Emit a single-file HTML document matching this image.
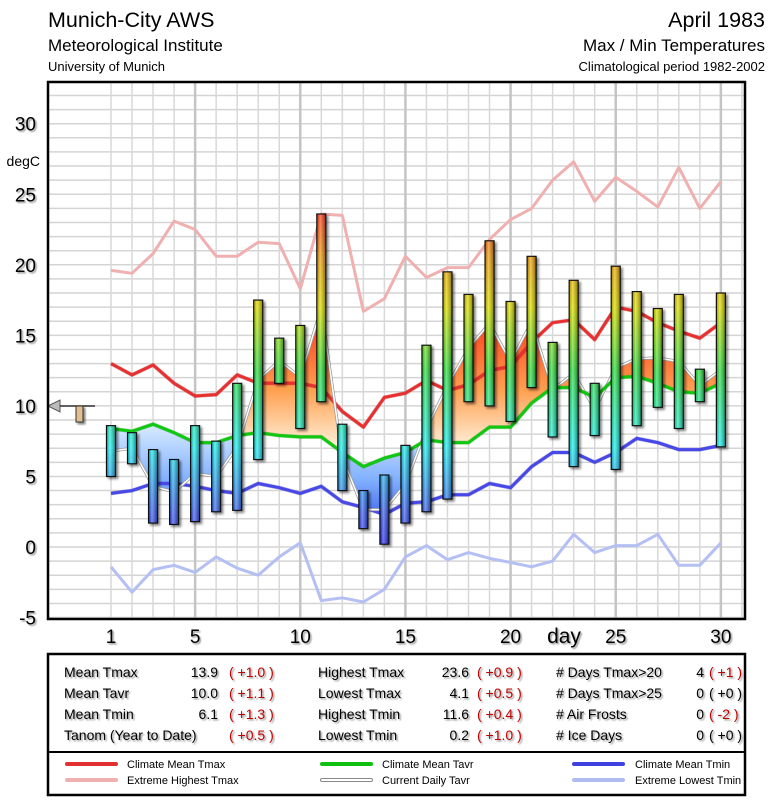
<!DOCTYPE html>
<html><head><meta charset="utf-8">
<style>
body{margin:0;background:#fff;font-family:"Liberation Sans",sans-serif;}
svg text{font-family:"Liberation Sans",sans-serif;}
</style></head>
<body>
<svg id="c" width="775" height="800" xmlns="http://www.w3.org/2000/svg">
<defs>
<linearGradient id="barGrad" gradientUnits="userSpaceOnUse" x1="0" y1="547" x2="0" y2="214">
<stop offset="0" stop-color="#3030f0"/>
<stop offset="0.1" stop-color="#4060f0"/>
<stop offset="0.3" stop-color="#20f0f0"/>
<stop offset="0.53" stop-color="#30e040"/>
<stop offset="0.72" stop-color="#e0e000"/>
<stop offset="0.87" stop-color="#f0a010"/>
<stop offset="1" stop-color="#ff4020"/>
</linearGradient>
<linearGradient id="barShade" x1="0" y1="0" x2="1" y2="0">
<stop offset="0" stop-color="#000" stop-opacity="0.2"/>
<stop offset="0.35" stop-color="#fff" stop-opacity="0.3"/>
<stop offset="1" stop-color="#000" stop-opacity="0.35"/>
</linearGradient>
<linearGradient id="warmGrad" gradientUnits="userSpaceOnUse" x1="0" y1="450" x2="0" y2="300">
<stop offset="0" stop-color="#fff4e0"/>
<stop offset="0.4" stop-color="#ffa050"/>
<stop offset="1" stop-color="#ff2010"/>
</linearGradient>
<linearGradient id="coldGrad" gradientUnits="userSpaceOnUse" x1="0" y1="420" x2="0" y2="540">
<stop offset="0" stop-color="#e0f0ff"/>
<stop offset="0.5" stop-color="#80b0ff"/>
<stop offset="1" stop-color="#2040e0"/>
</linearGradient>
<filter id="sh" x="-50%" y="-10%" width="200%" height="130%"><feDropShadow dx="2" dy="2" stdDeviation="1.2" flood-opacity="0.5"/></filter>
<filter id="tsh"><feDropShadow dx="1.5" dy="1.5" stdDeviation="0.8" flood-opacity="0.4"/></filter>
<clipPath id="aboveClip"><path id="aboveP"/></clipPath>
<clipPath id="belowClip"><path id="belowP"/></clipPath>
</defs>

<g>
<text x="48" y="27" font-size="21.5">Munich-City AWS</text>
<text x="48" y="51" font-size="17">Meteorological Institute</text>
<text x="48" y="71" font-size="13">University of Munich</text>
<text x="765" y="27" font-size="21.5" text-anchor="end">April 1983</text>
<text x="765" y="51" font-size="17" text-anchor="end">Max / Min Temperatures</text>
<text x="765" y="71" font-size="13" text-anchor="end">Climatological period 1982-2002</text>
</g>

<g id="grid"></g>
<g id="fills"></g>
<g id="lines"></g>
<g id="bars"></g>
<g id="axes"></g>

<g>
<polygon points="48,406 60,400 60,412" fill="#bbb" stroke="#555" stroke-width="1"/>
<line x1="60" y1="406" x2="95" y2="406" stroke="#333" stroke-width="1.5"/>
<rect x="76" y="406" width="7" height="16" fill="#e0c090" stroke="#333" stroke-width="1" filter="url(#sh)"/>
</g>

<rect x="48" y="82" width="697" height="537" fill="none" stroke="#000" stroke-width="2.5"/>

<g font-size="14">
<rect x="48" y="654" width="697" height="141" fill="#fff" stroke="#000" stroke-width="2.5"/>
<line x1="48" y1="752" x2="745" y2="752" stroke="#000" stroke-width="2"/>
<g filter="url(#tsh)">
<text x="64" y="677">Mean Tmax</text><text x="218" y="677" text-anchor="end">13.9</text><text x="229" y="677" fill="#c00000">( +1.0 )</text>
<text x="64" y="698">Mean Tavr</text><text x="218" y="698" text-anchor="end">10.0</text><text x="229" y="698" fill="#c00000">( +1.1 )</text>
<text x="64" y="719">Mean Tmin</text><text x="218" y="719" text-anchor="end">6.1</text><text x="229" y="719" fill="#c00000">( +1.3 )</text>
<text x="64" y="740">Tanom (Year to Date)</text><text x="229" y="740" fill="#c00000">( +0.5 )</text>
<text x="318" y="677">Highest Tmax</text><text x="469" y="677" text-anchor="end">23.6</text><text x="477" y="677" fill="#c00000">( +0.9 )</text>
<text x="318" y="698">Lowest Tmax</text><text x="469" y="698" text-anchor="end">4.1</text><text x="477" y="698" fill="#c00000">( +0.5 )</text>
<text x="318" y="719">Highest Tmin</text><text x="469" y="719" text-anchor="end">11.6</text><text x="477" y="719" fill="#c00000">( +0.4 )</text>
<text x="318" y="740">Lowest Tmin</text><text x="469" y="740" text-anchor="end">0.2</text><text x="477" y="740" fill="#c00000">( +1.0 )</text>
<text x="556" y="677"># Days Tmax&gt;20</text><text x="704" y="677" text-anchor="end">4</text><text x="709" y="677" fill="#c00000">( +1 )</text>
<text x="556" y="698"># Days Tmax&gt;25</text><text x="704" y="698" text-anchor="end">0</text><text x="709" y="698">( +0 )</text>
<text x="556" y="719"># Air Frosts</text><text x="704" y="719" text-anchor="end">0</text><text x="709" y="719" fill="#c00000">( -2 )</text>
<text x="556" y="740"># Ice Days</text><text x="704" y="740" text-anchor="end">0</text><text x="709" y="740">( +0 )</text>
</g>
</g>

<g font-size="11">
<g><line x1="67" y1="764" x2="116" y2="764" stroke="#e03030" stroke-width="4" stroke-linecap="round"/><text x="127" y="768">Climate Mean Tmax</text></g>
<g><line x1="67" y1="780" x2="116" y2="780" stroke="#f0b0b0" stroke-width="4" stroke-linecap="round"/><text x="127" y="784">Extreme Highest Tmax</text></g>
<g><line x1="322" y1="764" x2="371" y2="764" stroke="#10c010" stroke-width="4" stroke-linecap="round"/><text x="382" y="768">Climate Mean Tavr</text></g>
<g><line x1="322" y1="780" x2="371" y2="780" stroke="#888" stroke-width="4" stroke-linecap="round"/><line x1="322" y1="780" x2="371" y2="780" stroke="#fff" stroke-width="2" stroke-linecap="round"/><text x="382" y="784">Current Daily Tavr</text></g>
<g><line x1="574" y1="764" x2="623" y2="764" stroke="#4040e0" stroke-width="4" stroke-linecap="round"/><text x="635" y="768">Climate Mean Tmin</text></g>
<g><line x1="574" y1="780" x2="623" y2="780" stroke="#b0bcf0" stroke-width="4" stroke-linecap="round"/><text x="635" y="784">Extreme Lowest Tmin</text></g>
</g>
</svg>

<script>
const days = Array.from({length:30},(_,i)=>i+1);
const tmax = [8.6,8.1,6.9,6.2,8.6,7.5,11.6,17.5,14.8,15.7,23.6,8.7,4.0,5.1,7.2,14.3,19.5,17.9,21.7,17.4,20.6,14.5,18.9,11.6,19.9,18.1,16.9,17.9,12.6,18.0];
const tmin = [5.0,5.9,1.7,1.6,1.8,2.5,2.6,6.2,11.6,8.4,10.3,4.0,1.3,0.2,1.7,2.5,3.4,10.3,10.0,8.9,11.3,7.8,5.7,7.9,5.5,8.6,9.9,8.4,10.3,7.1];
const climTmax = [13.0,12.2,12.9,11.6,10.7,10.8,12.2,11.6,11.6,11.6,11.3,9.6,8.5,10.6,10.9,11.8,11.1,11.5,12.5,12.8,14.5,15.9,16.1,14.7,17.0,16.7,15.9,15.3,14.8,15.9];
const climTavr = [8.4,8.2,8.7,8.1,7.4,7.4,7.9,8.1,7.9,7.8,7.8,6.7,5.7,6.3,6.7,7.6,7.4,7.4,8.5,8.5,10.2,11.3,11.3,10.6,12.0,12.1,11.6,11.0,10.9,11.6];
const climTmin = [3.8,4.0,4.5,4.5,4.3,4.0,3.8,4.5,4.2,3.8,4.3,3.2,2.8,2.3,3.1,3.2,3.7,3.7,4.5,4.2,5.7,6.7,6.7,6.0,6.7,7.7,7.4,6.9,6.9,7.2];
const extHigh = [19.6,19.4,20.8,23.1,22.5,20.6,20.6,21.6,21.5,18.3,23.6,23.5,16.7,17.6,20.6,19.1,19.8,19.8,21.8,23.2,24.0,26.0,27.3,24.5,26.2,25.2,24.1,26.9,24.0,25.9];
const extLow = [-1.4,-3.2,-1.6,-1.3,-1.8,-0.7,-1.5,-2.0,-0.7,0.3,-3.8,-3.6,-3.9,-3.0,-0.7,0.1,-0.9,-0.4,-0.8,-1.1,-1.4,-1.0,0.9,-0.4,0.1,0.1,0.9,-1.3,-1.3,0.3];
const yTicks = [-5,0,5,10,15,20,25,30];
const xTicks = [1,5,10,15,20,25,30];

const NS="http://www.w3.org/2000/svg";
const X = d => 111 + (d-1)*21.03;
const Y = v => 547 - v*14.11;
function mk(tag, attrs, parent){const e=document.createElementNS(NS,tag);for(const k in attrs)e.setAttribute(k,attrs[k]);parent.appendChild(e);return e;}

const grid=document.getElementById('grid');
for(let v=-5; v<=32; v++){
  const l=mk('line',{x1:48,x2:745,y1:Y(v),y2:Y(v),stroke:'#d4d4d4','stroke-width':1.5},grid);
  
  
}
for(let d=1; d<=31; d++){
  const l=mk('line',{x1:X(d),x2:X(d),y1:82,y2:619,stroke:d%5===0?'#c4c4c4':'#d8d8d8','stroke-width':d%5===0?2.5:1.5},grid);
  
  
}

const tavr = tmax.map((v,i)=>(v+tmin[i])/2);
const pts = (arr)=>arr.map((v,i)=>X(days[i]).toFixed(1)+','+Y(v).toFixed(1));
const greenPts = pts(climTavr);
document.getElementById('aboveP').setAttribute('d','M'+X(1)+',82 L'+greenPts.join(' L')+' L'+X(30)+',82 Z');
document.getElementById('belowP').setAttribute('d','M'+X(1)+',619 L'+greenPts.join(' L')+' L'+X(30)+',619 Z');
const tavrPts = pts(tavr);
const bandD = 'M'+tavrPts.join(' L')+' L'+greenPts.slice().reverse().join(' L')+' Z';
const fills=document.getElementById('fills');
const warm=mk('path',{d:bandD,fill:'url(#warmGrad)','clip-path':'url(#aboveClip)'},fills);


const cold=mk('path',{d:bandD,fill:'url(#coldGrad)','clip-path':'url(#belowClip)'},fills);



const lines=document.getElementById('lines');
function series(arr,color,w,name){
  const p=mk('polyline',{points:pts(arr).join(' '),fill:'none',stroke:color,'stroke-width':w,'stroke-linejoin':'round'},lines);
  
  
  return p;
}
series(extHigh,'#f0b0b0',3,'extreme-highest-tmax-line');
series(extLow,'#b4c0f4',3,'extreme-lowest-tmin-line');
series(climTmax,'#a01010',4,'climate-mean-tmax-line-shadow').setAttribute('opacity','0.35');
series(climTmax,'#e83030',3,'climate-mean-tmax-line');
series(climTmin,'#2020a0',4,'climate-mean-tmin-line-shadow').setAttribute('opacity','0.35');
series(climTmin,'#4848e8',3,'climate-mean-tmin-line');
series(tavr,'#999',3,'current-daily-tavr-line-outline');
series(tavr,'#fff',1.5,'current-daily-tavr-line');
series(climTavr,'#108010',4,'climate-mean-tavr-line-shadow').setAttribute('opacity','0.35');
series(climTavr,'#10c810',3,'climate-mean-tavr-line');

const bars=document.getElementById('bars');
days.forEach((d,i)=>{
  const y1=Y(tmax[i]), y2=Y(tmin[i]);
  const g=mk('g',{filter:'url(#sh)'},bars);
  
  
  mk('rect',{x:X(d)-4.5,y:y1,width:9,height:y2-y1,fill:'url(#barGrad)',stroke:'#111','stroke-width':1.2},g);
  mk('rect',{x:X(d)-4,y:y1+0.5,width:8,height:Math.max(0,y2-y1-1),fill:'url(#barShade)'},g);
});

const axes=document.getElementById('axes');
yTicks.forEach(v=>{
  const t=mk('text',{x:36,y:Y(v)+7,'font-size':19,'text-anchor':'end',filter:'url(#tsh)'},axes);
  t.textContent=v;
  
  
});
xTicks.forEach(d=>{
  const t=mk('text',{x:X(d),y:643,'font-size':19,'text-anchor':'middle',filter:'url(#tsh)'},axes);
  t.textContent=d;
  
  
});
const yt=mk('text',{x:40,y:166,'font-size':14,'text-anchor':'end'},axes);
yt.textContent='degC';


const xt=mk('text',{x:564,y:643,'font-size':21,'text-anchor':'middle',filter:'url(#tsh)'},axes);
xt.textContent='day';


</script>
</body></html>
